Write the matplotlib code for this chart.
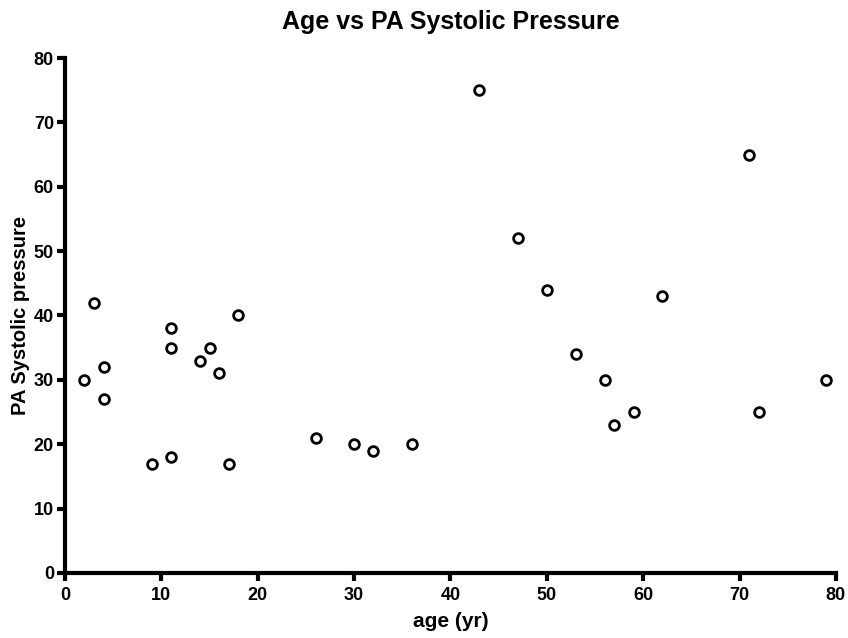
import matplotlib
matplotlib.use("Agg")
import matplotlib.pyplot as plt

# data
age = [2, 3, 4, 4, 9, 11, 11, 11, 14, 15, 16, 17, 18, 26, 30, 32, 36,
       43, 47, 50, 53, 56, 57, 59, 62, 71, 72, 79]
pa_sys = [30, 42, 32, 27, 17, 18, 38, 35, 33, 35, 31, 17, 40, 21, 20, 19, 20,
          75, 52, 44, 34, 30, 23, 25, 43, 65, 25, 30]

xticks = [0, 10, 20, 30, 40, 50, 60, 70, 80]
yticks = [0, 10, 20, 30, 40, 50, 60, 70, 80]

plt.rcParams['font.family'] = ['Liberation Sans', 'DejaVu Sans']
plt.rcParams['font.weight'] = 'bold'

fig = plt.figure(figsize=(8.48, 6.38), dpi=100)
ax = fig.add_axes([0.0767, 0.102, 0.909, 0.807])

ax.plot(age, pa_sys, linestyle='none', marker='o', markersize=7,
        markerfacecolor='white', markeredgecolor='black', markeredgewidth=2,
        clip_on=False)

ax.set_xlim(0, 80)
ax.set_ylim(0, 80)
ax.set_xticks(xticks)
ax.set_yticks(yticks)

for side in ['top', 'right']:
    ax.spines[side].set_visible(False)
for side in ['left', 'bottom']:
    ax.spines[side].set_linewidth(3)

ax.tick_params(direction='out', length=6, width=3, labelsize=13)
ax.tick_params(axis='x', pad=4)
ax.tick_params(axis='y', pad=2)
for lab in ax.get_xticklabels() + ax.get_yticklabels():
    lab.set_fontweight('bold')

ax.set_xlabel("age (yr)", fontsize=15, fontweight='bold', labelpad=6)
ax.set_ylabel("PA Systolic pressure", fontsize=14.5, fontweight='bold', labelpad=3)
ax.set_title("Age vs PA Systolic Pressure", fontsize=18, fontweight='bold', pad=21)

fig.savefig("out.png", dpi=100)
